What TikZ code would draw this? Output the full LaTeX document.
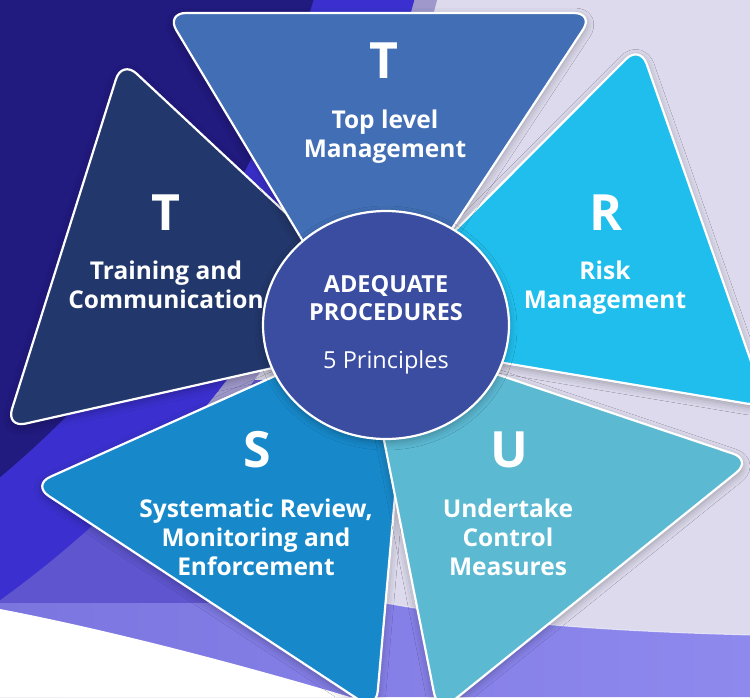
\documentclass[tikz,border=0pt]{standalone}
\usepackage{fontspec}
\setmainfont{Open Sans}
\usetikzlibrary{shapes.geometric,shadows.blur}

\definecolor{navy}{HTML}{211A7F}
\definecolor{lav}{HTML}{DCDAEC}
\definecolor{arcband}{HTML}{3B30CF}
\definecolor{mauve}{HTML}{9E98CB}
\definecolor{midpurple}{HTML}{5E55CF}
\definecolor{swoopL}{HTML}{7B75E0}
\definecolor{swoopR}{HTML}{8E89ED}
\definecolor{topblue}{HTML}{416EB4}
\definecolor{riskblue}{HTML}{20BEEC}
\definecolor{undertk}{HTML}{5BB9D2}
\definecolor{sysblue}{HTML}{1789CB}
\definecolor{trainblue}{HTML}{22376B}
\definecolor{hubblue}{HTML}{3A4DA0}

\tikzset{
  petal/.style={draw=white, line width=2.2pt, rounded corners=20pt,
    blur shadow={shadow xshift=0pt, shadow yshift=-3pt, shadow opacity=30, shadow blur radius=8pt}},
  letter/.style={text=white, font=\bfseries\fontsize{50}{50}\selectfont, anchor=base},
  caption/.style={text=white, font=\bfseries\fontsize{24.5}{29}\selectfont, align=center, anchor=base},
  hub/.style={ellipse, draw=white, line width=2.2pt, fill=hubblue, minimum width=246pt,
    minimum height=228pt, inner sep=0pt, text=white, align=center,
    font=\bfseries\fontsize{23.5}{28}\selectfont,
    blur shadow={shadow xshift=0pt, shadow yshift=-3pt, shadow opacity=30, shadow blur radius=8pt}}
}

\begin{document}
\begin{tikzpicture}[x=1pt, y=-1pt]
  \useasboundingbox (0,0) rectangle (750,697);
  \clip (0,0) rectangle (750,697);

  % background
  \fill[lav] (0,0) rectangle (750,697);
  \fill[midpurple] (0,380) rectangle (330,603);
  \begin{scope}
    \clip (150,0) rectangle (750,420);
    \fill[mauve] (-635,-281) circle[radius=1108];
  \end{scope}
  \fill[arcband] (-635,-281) circle[radius=1086];
  \fill[navy] (-635,-281) circle[radius=989];
  \shade[left color=swoopL, right color=swoopR] (0,603) -- (385,603)
    .. controls (470,618) and (560,630) .. (750,635) -- (750,697) -- (0,697) -- cycle;
  \draw[white, opacity=.6, line width=1pt] (385,603) .. controls (470,618) and (560,630) .. (750,635);
  \fill[white] (0,609) .. controls (120,632) and (260,670) .. (350,697) -- (0,697) -- cycle;

  % the five petals
  \path[petal, fill=trainblue] (122,60) -- (6,428) -- (417,335.5) -- cycle;
  \path[petal, fill=sysblue] (32,485) -- (376,711) -- (411,315) -- cycle;
  \path[petal, fill=undertk] (752,460) -- (438,713) -- (362,329) -- cycle;
  \path[petal, fill=riskblue] (640,45) -- (767,407) -- (349,337) -- cycle;
  \path[petal, fill=topblue] (166,13) -- (594,13) -- (370,353) -- cycle;

  % centre
  \node[hub] (hub) at (386,325) {ADEQUATE\\PROCEDURES\\[20pt]{\mdseries 5 Principles}};

  % letters and captions
  \node[letter] (tTop) at (384,78) {T};
  \node[caption] (cTop) at (385,157) {Top level\\Management};
  \node[letter] (tTrain) at (166,230) {T};
  \node[caption] (cTrain) at (166,308) {Training and\\Communication};
  \node[letter] (tRisk) at (606,230) {R};
  \node[caption] (cRisk) at (605,308) {Risk\\Management};
  \node[letter] (tSys) at (257,467) {S};
  \node[caption] (cSys) at (256,575) {Systematic Review,\\Monitoring and\\Enforcement};
  \node[letter] (tUnd) at (509,467) {U};
  \node[caption] (cUnd) at (508,575) {Undertake\\Control\\Measures};
\end{tikzpicture}
\end{document}
